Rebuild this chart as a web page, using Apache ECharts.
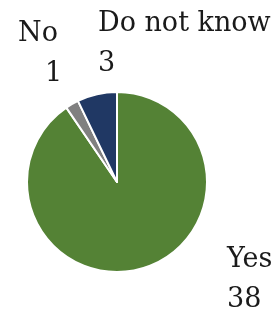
<!DOCTYPE html>
<html>
<head>
<meta charset="utf-8">
<script src="https://cdn.jsdelivr.net/npm/echarts@6/dist/echarts.min.js"></script>
<style>
  html, body { margin: 0; padding: 0; background: #fff; }
  #chart { width: 277px; height: 311px; }
</style>
</head>
<body>
<div id="chart"></div>
<script>
  var categories = ['Yes', 'No', 'Do not know']
  var values = [38, 1, 3]
  var colors = ['#548235', '#808080', '#203864']

  var chart = echarts.init(document.getElementById('chart'))

  // label boxes, top-left corners (Excel puts them around the pie by hand)
  var labelSpots = [[227, 240], [18, 14], [98, 4]]
  var valuePad = [0, 27, 0]

  var data = categories.map(function (name, i) {
    return {
      name: name,
      value: values[i],
      itemStyle: { color: colors[i] },
      label: {
        formatter: '{n|{b}}\n{v|{c}}',
        rich: {
          n: { fontFamily: 'DejaVu Serif', fontSize: 27, lineHeight: 40, color: '#1a1a1a' },
          v: { fontFamily: 'DejaVu Serif', fontSize: 27, lineHeight: 40, color: '#1a1a1a', padding: [0, 0, 0, valuePad[i]] }
        }
      }
    }
  })

  var option = {
    animation: false,
    series: [
      {
        type: 'pie',
        center: [117, 182],
        radius: [0, 90],
        startAngle: 90,
        clockwise: true,
        avoidLabelOverlap: false,
        itemStyle: { borderColor: '#fff', borderWidth: 2 },
        label: { show: true, position: 'outside', overflow: 'none', width: 300 },
        labelLine: { show: false },
        labelLayout: function (params) {
          var p = labelSpots[params.dataIndex]
          return { x: p[0], y: p[1], align: 'left', verticalAlign: 'top', hideOverlap: false }
        },
        data: data
      }
    ]
  }
  chart.setOption(option)
</script>
</body>
</html>
